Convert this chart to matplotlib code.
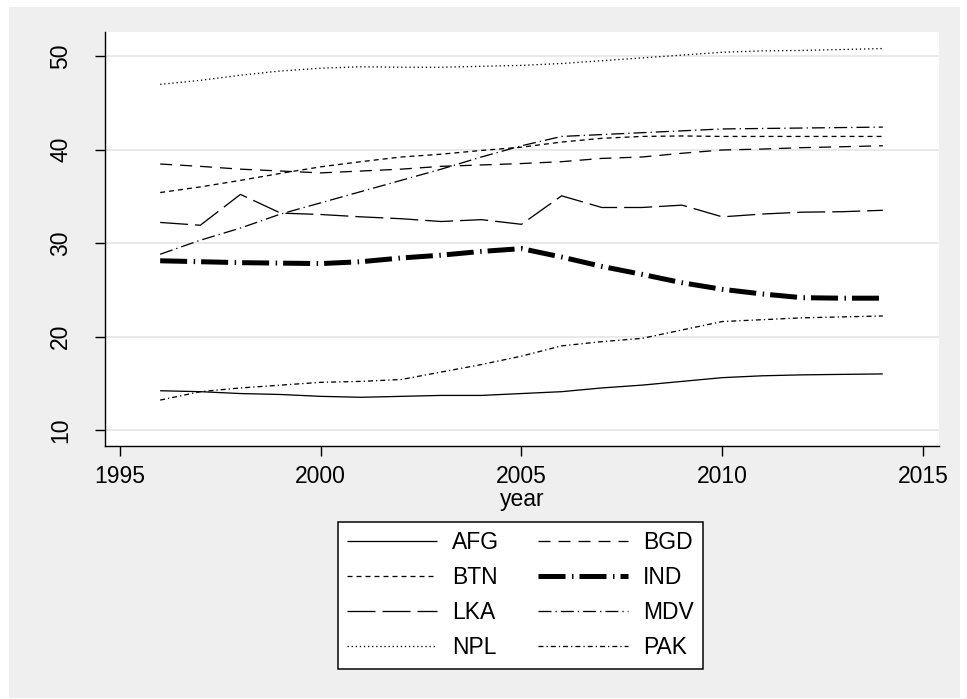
import matplotlib
matplotlib.use("Agg")
import matplotlib.pyplot as plt
from matplotlib.patches import Rectangle

# ---- data -------------------------------------------------------------
years = list(range(1996, 2015))

AFG = [14.2, 14.1, 13.9, 13.8, 13.6, 13.5, 13.6, 13.7, 13.7, 13.9,
       14.1, 14.5, 14.8, 15.2, 15.6, 15.8, 15.9, 15.95, 16.0]
BGD = [38.45, 38.2, 37.9, 37.7, 37.5, 37.7, 37.9, 38.2, 38.35, 38.5,
       38.7, 39.05, 39.2, 39.6, 39.95, 40.05, 40.2, 40.3, 40.4]
BTN = [35.4, 36.0, 36.7, 37.45, 38.15, 38.7, 39.2, 39.5, 39.9, 40.25,
       40.8, 41.2, 41.4, 41.45, 41.4, 41.4, 41.4, 41.4, 41.4]
IND = [28.1, 28.0, 27.9, 27.85, 27.8, 28.0, 28.4, 28.7, 29.1, 29.4,
       28.5, 27.5, 26.65, 25.75, 25.05, 24.55, 24.15, 24.1, 24.1]
LKA = [32.2, 31.9, 35.2, 33.2, 33.05, 32.8, 32.6, 32.3, 32.5, 32.0,
       35.05, 33.8, 33.8, 34.05, 32.8, 33.1, 33.3, 33.35, 33.5]
MDV = [28.8, 30.3, 31.6, 33.1, 34.3, 35.5, 36.7, 37.9, 39.2, 40.4,
       41.4, 41.6, 41.8, 42.0, 42.2, 42.25, 42.3, 42.35, 42.4]
NPL = [46.97, 47.4, 47.95, 48.4, 48.7, 48.85, 48.8, 48.8, 48.9, 49.0,
       49.2, 49.5, 49.8, 50.1, 50.4, 50.55, 50.6, 50.7, 50.8]
PAK = [13.2, 14.1, 14.5, 14.8, 15.1, 15.2, 15.4, 16.2, 17.0, 17.9,
       19.0, 19.45, 19.8, 20.7, 21.6, 21.8, 22.0, 22.1, 22.2]

countries = ["AFG", "BGD", "BTN", "IND", "LKA", "MDV", "NPL", "PAK"]
series = [AFG, BGD, BTN, IND, LKA, MDV, NPL, PAK]

xticks = [1995, 2000, 2005, 2010, 2015]
yticks = [10, 20, 30, 40, 50]

# ---- style ------------------------------------------------------------
plt.rcParams["font.family"] = ["Liberation Sans", "DejaVu Sans"]
plt.rcParams["lines.scale_dashes"] = False

W, H = 967, 699
PX = 0.72  # one pixel in points at 100 dpi
FS = 16.5

thin = 1.3 * PX
line_styles = {
    "AFG": dict(lw=thin, ls="-"),
    "BGD": dict(lw=thin, ls=(0, (12 * PX, 8 * PX))),
    "BTN": dict(lw=thin, ls=(0, (5 * PX, 4 * PX))),
    "IND": dict(lw=5 * PX, ls=(0, (27 * PX, 6.5 * PX, 1.5 * PX, 6 * PX))),
    "LKA": dict(lw=thin, ls=(0, (28 * PX, 7 * PX))),
    "MDV": dict(lw=thin, ls=(0, (13 * PX, 4 * PX, 1.3 * PX, 4 * PX))),
    "NPL": dict(lw=thin, ls=(0, (1.3 * PX, 2.8 * PX))),
    "PAK": dict(lw=thin, ls=(0, (5 * PX, 3 * PX, 1.3 * PX, 3 * PX))),
}

fig = plt.figure(figsize=(W / 100, H / 100), dpi=100, facecolor="white")
fig.patches.append(Rectangle((9 / W, 1 / H), 951 / W, 691 / H,
                             transform=fig.transFigure, facecolor="#efefef",
                             edgecolor="none", zorder=-10))

ax = fig.add_axes([105 / W, 253 / H, 834 / W, 414 / H])
ax.set_facecolor("white")

handles = {}
for name, vals in zip(countries, series):
    st = line_styles[name]
    (h,) = ax.plot(years, vals, color="black", linewidth=st["lw"],
                   linestyle=st["ls"], solid_capstyle="butt",
                   dash_capstyle="butt", label=name)
    handles[name] = h

ax.set_xlim(1994.626, 2015.4)
ax.set_ylim(8.29, 52.57)
ax.set_xticks(xticks)
ax.set_yticks(yticks)

ax.grid(axis="y", color="#e4e4e4", linewidth=1.6 * PX)
ax.grid(axis="x", visible=False)
ax.set_axisbelow(True)

for side in ("top", "right"):
    ax.spines[side].set_visible(False)
for side in ("left", "bottom"):
    ax.spines[side].set_linewidth(1.4 * PX)
    ax.spines[side].set_color("black")

ax.tick_params(axis="both", direction="out", length=10 * PX, width=1.4 * PX,
               labelsize=FS, colors="black")
ax.tick_params(axis="x", pad=6.5)
ax.tick_params(axis="y", pad=16.5, labelrotation=90)
for lab in ax.get_yticklabels():
    lab.set_va("center")

fig.text(522 / W, (H - 506) / H, "year", ha="center", va="baseline",
         fontsize=FS)

order = ["AFG", "BTN", "LKA", "NPL", "BGD", "IND", "MDV", "PAK"]
leg = fig.legend([handles[n] for n in order], order, ncol=2,
                 loc="upper center",
                 bbox_to_anchor=(520.5 / W, (H - 522) / H),
                 frameon=True, fancybox=False, shadow=False,
                 edgecolor="black", facecolor="white", framealpha=1,
                 fontsize=FS, handlelength=3.93, handletextpad=0.65,
                 columnspacing=1.7, borderpad=0.41, labelspacing=0.52,
                 borderaxespad=0)
leg.get_frame().set_linewidth(1.5 * PX)

fig.savefig("out.png", dpi=100, facecolor="white")
